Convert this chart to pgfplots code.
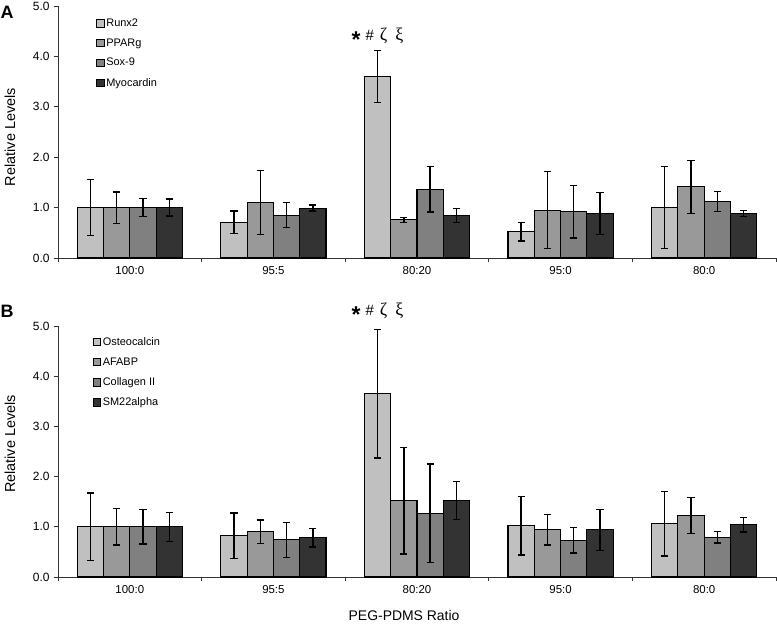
\documentclass[border=0pt]{standalone}
\usepackage{fontspec}
\setmainfont{Liberation Sans}
\newfontfamily\greekfont{Liberation Serif}
\usepackage{pgfplots}
\usepackage{pgfplotstable}
\pgfplotsset{compat=1.18}

\definecolor{cA}{HTML}{C0C0C0}
\definecolor{cB}{HTML}{999999}
\definecolor{cC}{HTML}{808080}
\definecolor{cD}{HTML}{333333}

\pgfplotstableread{
x r re p pe s se m me
0 1.00 0.56 1.00 0.31 1.00 0.18 1.00 0.17
1 0.71 0.22 1.10 0.64 0.85 0.25 0.99 0.06
2 3.60 0.52 0.76 0.05 1.36 0.45 0.84 0.14
3 0.52 0.18 0.95 0.76 0.92 0.52 0.88 0.42
4 1.00 0.81 1.41 0.53 1.12 0.20 0.88 0.06
}\dataA

\pgfplotstableread{
x r re p pe s se m me
0 1.00 0.67 1.00 0.36 1.00 0.34 1.00 0.29
1 0.82 0.455 0.90 0.235 0.74 0.35 0.78 0.185
2 3.65 1.28 1.52 1.06 1.27 0.98 1.52 0.38
3 1.02 0.585 0.94 0.30 0.73 0.255 0.94 0.41
4 1.06 0.64 1.23 0.36 0.79 0.115 1.04 0.145
}\dataB

\pgfplotsset{
  sq/.style={legend image code/.code={\draw[##1,line width=0.8pt,draw=black] (0bp,-3.9bp) rectangle (7.8bp,3.9bp);}},
  barstyle/.style={draw=black, line width=1.1pt, bar width=26.3bp,
    error bars/y dir=both, error bars/y explicit,
    error bars/error bar style={line width=1.35pt, black},
    error bars/error mark options={rotate=90, mark size=3.6bp, line width=1.35pt, black}},
  panel/.style={
    scale only axis, width=718bp,
    xmin=-0.5, xmax=4.5, ymin=0, ymax=5,
    axis x line=bottom, axis y line=left,
    axis line style={-, line width=0.9pt, black!80},
    tick style={line width=0.9pt, black!80},
    tick align=outside, major tick length=4bp,
    ytick={0,1,...,5},
    /pgf/number format/assume math mode=true,
    yticklabel style={/pgf/number format/fixed, /pgf/number format/fixed zerofill, /pgf/number format/precision=1, font=\fontsize{12}{12}\selectfont, xshift=-1bp},
    xtick={-0.5,0.5,...,4.5}, xticklabels={,,,,,},
    extra x ticks={0,1,2,3,4},
    extra x tick labels={100:0,95:5,80:20,95:0,80:0},
    extra x tick style={major tick length=0pt, tick label style={font=\fontsize{11.5}{11.5}\selectfont, yshift=-5bp}},
    ybar=0pt, clip=false,
    legend cell align=left,
    legend style={draw=none, fill=none, anchor=north west, inner sep=0pt,
      row sep=7.8bp, font=\fontsize{11}{12}\selectfont,
      nodes={inner sep=1.5bp}},
    every axis y label/.style={rotate=90, anchor=center, font=\fontsize{14.5}{14.5}\selectfont},
  }
}

\newcommand{\annot}{{\fontsize{23}{23}\selectfont\bfseries\raisebox{-6.5bp}{*}}\hspace{5bp}{\fontsize{15}{15}\selectfont\#}\hspace{6bp}{\greekfont\fontsize{18}{18}\selectfont ζ\hspace{8bp}ξ}}

\begin{document}
\begin{tikzpicture}
\useasboundingbox (-58bp,-367bp) rectangle (719bp,258bp);
\begin{axis}[panel, height=252bp, at={(0bp,0bp)}, anchor=south west,
  ylabel={Relative Levels},
  every axis y label/.append style={at={(rel axis cs:-0.0669,0.48)}},
  legend style={at={(rel axis cs:0.053,0.957)}}]
\addplot[barstyle, fill=cA, sq, bar shift=-39.45bp] table[x=x,y=r,y error=re]{\dataA};
\addplot[barstyle, fill=cB, sq, bar shift=-13.15bp] table[x=x,y=p,y error=pe]{\dataA};
\addplot[barstyle, fill=cC, sq, bar shift=13.15bp] table[x=x,y=s,y error=se]{\dataA};
\addplot[barstyle, fill=cD, sq, bar shift=39.45bp] table[x=x,y=m,y error=me]{\dataA};
\legend{Runx2,PPARg,Sox-9,Myocardin}
\node at (axis cs:1.725,4.37) {\annot};
\node[font=\bfseries\fontsize{18}{18}\selectfont] at (rel axis cs:-0.071,0.976) {A};
\end{axis}
\begin{axis}[panel, height=251bp, at={(0bp,-319bp)}, anchor=south west,
  ylabel={Relative Levels},
  every axis y label/.append style={at={(rel axis cs:-0.0669,0.53)}},
  xlabel={PEG-PDMS Ratio},
  every axis x label/.style={at={(rel axis cs:0.482,-0.153)}, anchor=center, font=\fontsize{14}{14}\selectfont},
  legend style={at={(rel axis cs:0.048,0.962)}}]
\addplot[barstyle, fill=cA, sq, bar shift=-39.45bp] table[x=x,y=r,y error=re]{\dataB};
\addplot[barstyle, fill=cB, sq, bar shift=-13.15bp] table[x=x,y=p,y error=pe]{\dataB};
\addplot[barstyle, fill=cC, sq, bar shift=13.15bp] table[x=x,y=s,y error=se]{\dataB};
\addplot[barstyle, fill=cD, sq, bar shift=39.45bp] table[x=x,y=m,y error=me]{\dataB};
\legend{Osteocalcin,AFABP,Collagen II,SM22alpha}
\node at (axis cs:1.725,5.26) {\annot};
\node[font=\bfseries\fontsize{18}{18}\selectfont] at (rel axis cs:-0.071,1.06) {B};
\end{axis}
\end{tikzpicture}
\end{document}
